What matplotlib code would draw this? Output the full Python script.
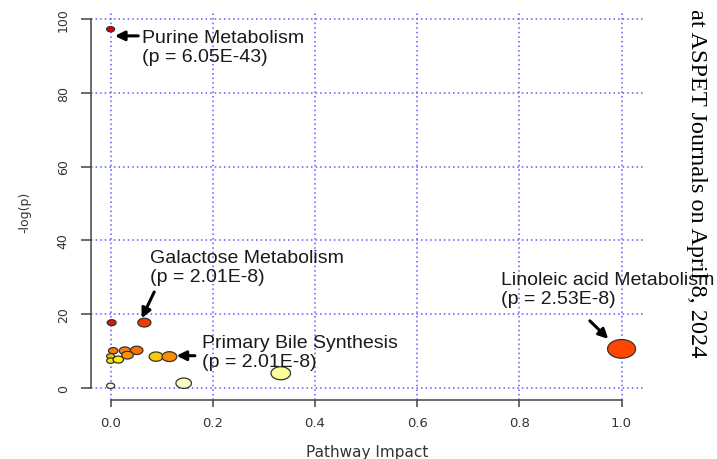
import matplotlib
matplotlib.use("Agg")
import matplotlib.pyplot as plt
from matplotlib.path import Path
import numpy as np

# Pathway topology results: impact vs -ln(p)
impact = [0.000, 0.002, 0.066, 0.005, 0.028, 0.051, 0.033, 0.000, 0.000,
          0.015, 0.089, 0.115, 0.000, 0.143, 0.333, 1.000]
neglogp = [97.21, 17.7, 17.72, 10.1, 10.1, 10.2, 8.9, 8.6, 7.4,
           7.7, 8.5, 8.5, 0.6, 1.3, 4.0, 10.6]
point_colors = ["#E00000", "#DD1A00", "#F03A00", "#FF7800", "#FF8200", "#FF7000",
                "#FF9200", "#E8C400", "#FFE000", "#FFF000", "#FFC800", "#FF8C00",
                "#FFFFF0", "#FFFFC8", "#FFFF98", "#FF4500"]

x_ticks = [0.0, 0.2, 0.4, 0.6, 0.8, 1.0]
x_tick_labels = ["0.0", "0.2", "0.4", "0.6", "0.8", "1.0"]
y_ticks = [0, 20, 40, 60, 80, 100]
y_tick_labels = ["0", "20", "40", "60", "80", "100"]

# Annotated pathways
ann_names = ["Purine Metabolism", "Galactose Metabolism",
             "Primary Bile Synthesis", "Linoleic acid Metabolism"]
ann_pvals = ["6.05E-43", "2.01E-8", "2.01E-8", "2.53E-8"]

fig = plt.figure(figsize=(7.17, 4.60), dpi=100)
ax = fig.add_axes([0.1265, 0.1289, 0.7703, 0.8407])
ax.set_xlim(-0.039, 1.042)
ax.set_ylim(-3.17, 101.6)

# Elliptical bubble marker (plot was stretched horizontally)
t = np.linspace(0, 2 * np.pi, 64)
ell = Path(np.column_stack([1.5 * np.cos(t), np.sin(t)]), closed=True)

widths_px = 8 + 20 * np.sqrt(np.array(impact))
sizes = (widths_px * 0.72) ** 2
ax.scatter(impact, neglogp, s=sizes, c=point_colors, marker=ell,
           edgecolors="#333333", linewidths=0.9, zorder=3)

# Dotted blue grid
grid_kw = dict(color="#5A5AFF", lw=1.1, ls=(0, (1, 2)), zorder=1)
for xv in x_ticks:
    ax.axvline(xv, **grid_kw)
for yv in y_ticks:
    ax.axhline(yv, **grid_kw)

for side in ["top", "right"]:
    ax.spines[side].set_visible(False)
ax.spines["left"].set_bounds(0, 100)
ax.spines["bottom"].set_bounds(0, 1)
for side in ["left", "bottom"]:
    ax.spines[side].set_color("#444444")
    ax.spines[side].set_linewidth(1.1)

ax.set_xticks(x_ticks)
ax.set_xticklabels(x_tick_labels, fontsize=9.5, color="#333333")
ax.set_yticks(y_ticks)
ax.set_yticklabels(y_tick_labels, fontsize=9, color="#333333",
                   rotation=90, va="center")
ax.tick_params(axis="x", length=5, width=1.1, color="#444444", pad=7)
ax.tick_params(axis="y", length=7, width=1.1, color="#444444", pad=8)

fig.text(366.7 / 717, 1 - 452.7 / 460, "Pathway Impact", fontsize=11,
         color="#333333", ha="center", va="center")
fig.text(25 / 717, 1 - 212 / 460, "-log(p)", fontsize=9, color="#333333",
         ha="center", va="center", rotation=90)

# Labels with arrows
text_font = dict(fontsize=14, family=["Liberation Sans", "DejaVu Sans"],
                 color="#1A1A1A", ha="left", va="center", linespacing=1.15)
arrow_kw = dict(arrowstyle="-|>", color="black", lw=2.2, mutation_scale=14,
                shrinkA=0, shrinkB=0)

text_pos = [(0.0607, 92.3), (0.0769, 32.8), (0.178, 9.76), (0.765, 26.8)]
arrow_tail = [(0.054, 95.4), (0.0853, 26.0), (0.165, 8.75), (0.938, 18.2)]
arrow_tip = [(0.0084, 95.4), (0.0607, 18.9), (0.129, 8.75), (0.974, 13.3)]

for name, pv, tp, tail, tip in zip(ann_names, ann_pvals, text_pos,
                                   arrow_tail, arrow_tip):
    ax.text(tp[0], tp[1], f"{name}\n(p = {pv})", zorder=5, **text_font)
    ax.annotate("", xy=tip, xytext=tail, arrowprops=arrow_kw, zorder=5)

fig.text(696 / 717, 1 - 183.5 / 460, "at ASPET Journals on April 8, 2024",
         fontsize=17.5, family=["Liberation Serif", "DejaVu Serif"],
         rotation=270, ha="center", va="center", color="black")

fig.savefig("out.png", dpi=100)
